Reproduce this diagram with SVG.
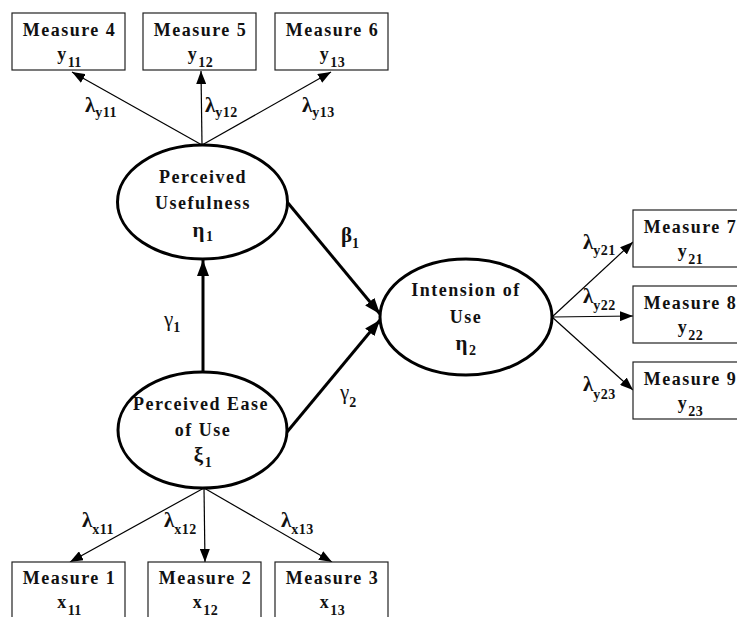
<svg xmlns="http://www.w3.org/2000/svg" width="737" height="617" viewBox="0 0 737 617">
<defs>
<style>
.box{fill:#fff;stroke:#222;stroke-width:1.2}
.ell{fill:#fff;stroke:#000;stroke-width:3}
.t{font-family:"Liberation Serif","Times New Roman",serif;font-weight:bold;font-size:18px;letter-spacing:1.5px;fill:#111;text-anchor:middle}
.g{font-family:"Liberation Serif","Times New Roman",serif;font-weight:bold;font-size:21px;fill:#111}
.gn{font-family:"Liberation Serif","Times New Roman",serif;font-size:21px;fill:#111}
.s{font-size:14px;font-weight:bold;letter-spacing:0.5px}
.ge{font-size:21px}
.thin{stroke:#000;stroke-width:1.2;fill:none}
.thick{stroke:#000;stroke-width:3;fill:none}
</style>
<marker id="ah" markerUnits="userSpaceOnUse" markerWidth="14" markerHeight="10" refX="13" refY="5" orient="auto">
<path d="M0,0 L13,5 L0,10 Z" fill="#000"/>
</marker>
<marker id="ahb" markerUnits="userSpaceOnUse" markerWidth="17" markerHeight="12" refX="16" refY="6" orient="auto">
<path d="M0,0 L16,6 L0,12 Z" fill="#000"/>
</marker>
</defs>
<rect width="737" height="617" fill="#fff"/>

<g id="connectors">
<line class="thin" x1="202" y1="145" x2="72" y2="72" marker-end="url(#ah)"/>
<line class="thin" x1="202" y1="145" x2="201" y2="71" marker-end="url(#ah)"/>
<line class="thin" x1="202" y1="145" x2="331" y2="72" marker-end="url(#ah)"/>
<line class="thin" x1="204" y1="488" x2="70" y2="562" marker-end="url(#ah)"/>
<line class="thin" x1="204" y1="488" x2="205" y2="562" marker-end="url(#ah)"/>
<line class="thin" x1="204" y1="488" x2="332" y2="562" marker-end="url(#ah)"/>
<line class="thin" x1="552" y1="317" x2="633" y2="242" marker-end="url(#ah)"/>
<line class="thin" x1="552" y1="317" x2="633" y2="316" marker-end="url(#ah)"/>
<line class="thin" x1="552" y1="317" x2="633" y2="390" marker-end="url(#ah)"/>
<line class="thick" x1="203" y1="372" x2="203" y2="260" marker-end="url(#ahb)"/>
<line class="thick" x1="288" y1="203" x2="380" y2="314" marker-end="url(#ahb)"/>
<line class="thick" x1="287" y1="432" x2="380" y2="320" marker-end="url(#ahb)"/>
</g>

<g id="labels">
<text class="g" x="85" y="112">λ<tspan class="s" dy="5">y11</tspan></text>
<text class="g" x="205" y="112">λ<tspan class="s" dy="5">y12</tspan></text>
<text class="g" x="302" y="112">λ<tspan class="s" dy="5">y13</tspan></text>
<text class="g" x="341" y="242">β<tspan class="s" dy="6">1</tspan></text>
<text class="gn" x="164" y="326">γ<tspan class="s" dy="6">1</tspan></text>
<text class="gn" x="340" y="399">γ<tspan class="s" dy="8">2</tspan></text>
<text class="g" x="583" y="249">λ<tspan class="s" dy="6">y21</tspan></text>
<text class="g" x="583" y="303">λ<tspan class="s" dy="7">y22</tspan></text>
<text class="g" x="583" y="391">λ<tspan class="s" dy="8">y23</tspan></text>
<text class="g" x="82" y="527">λ<tspan class="s" dy="7">x11</tspan></text>
<text class="g" x="164" y="527">λ<tspan class="s" dy="7">x12</tspan></text>
<text class="g" x="281" y="527">λ<tspan class="s" dy="7">x13</tspan></text>
</g>

<g id="m4"><rect class="box" x="12" y="13" width="113" height="57"/><text class="t" x="69.5" y="36">Measure 4</text><text class="t" x="69.5" y="60">y<tspan class="s" dy="7">11</tspan></text></g>
<g id="m5"><rect class="box" x="143" y="13" width="113" height="57"/><text class="t" x="200.5" y="36">Measure 5</text><text class="t" x="200.5" y="60">y<tspan class="s" dy="7">12</tspan></text></g>
<g id="m6"><rect class="box" x="275" y="13" width="113" height="57"/><text class="t" x="332.5" y="36">Measure 6</text><text class="t" x="332.5" y="60">y<tspan class="s" dy="7">13</tspan></text></g>

<g id="m7"><rect class="box" x="633" y="210" width="113" height="57"/><text class="t" x="690.5" y="233">Measure 7</text><text class="t" x="690.5" y="257">y<tspan class="s" dy="7">21</tspan></text></g>
<g id="m8"><rect class="box" x="633" y="286" width="113" height="57"/><text class="t" x="690.5" y="309">Measure 8</text><text class="t" x="690.5" y="333">y<tspan class="s" dy="7">22</tspan></text></g>
<g id="m9"><rect class="box" x="633" y="362" width="113" height="57"/><text class="t" x="690.5" y="385">Measure 9</text><text class="t" x="690.5" y="409">y<tspan class="s" dy="7">23</tspan></text></g>

<g id="m1"><rect class="box" x="12" y="562" width="113" height="57"/><text class="t" x="69.5" y="584">Measure 1</text><text class="t" x="69.5" y="608">x<tspan class="s" dy="7">11</tspan></text></g>
<g id="m2"><rect class="box" x="148" y="562" width="113" height="57"/><text class="t" x="205.5" y="584">Measure 2</text><text class="t" x="205.5" y="608">x<tspan class="s" dy="7">12</tspan></text></g>
<g id="m3"><rect class="box" x="275" y="562" width="113" height="57"/><text class="t" x="332.5" y="584">Measure 3</text><text class="t" x="332.5" y="608">x<tspan class="s" dy="7">13</tspan></text></g>

<g id="pu"><ellipse class="ell" cx="202.5" cy="202" rx="85" ry="57"/><text class="t" x="203" y="183">Perceived</text><text class="t" x="203" y="209">Usefulness</text><text class="t" x="203" y="237"><tspan class="ge">η</tspan><tspan class="s" dy="4">1</tspan></text></g>
<g id="peou"><ellipse class="ell" cx="202.5" cy="430" rx="84.5" ry="58"/><text class="t" x="201" y="410">Perceived Ease</text><text class="t" x="203" y="436">of Use</text><text class="t" x="203" y="462"><tspan class="ge">ξ</tspan><tspan class="s" dy="5">1</tspan></text></g>
<g id="iu"><ellipse class="ell" cx="466" cy="317" rx="86" ry="58"/><text class="t" x="466" y="296">Intension of</text><text class="t" x="466" y="323">Use</text><text class="t" x="466" y="350"><tspan class="ge">η</tspan><tspan class="s" dy="5">2</tspan></text></g>
</svg>
